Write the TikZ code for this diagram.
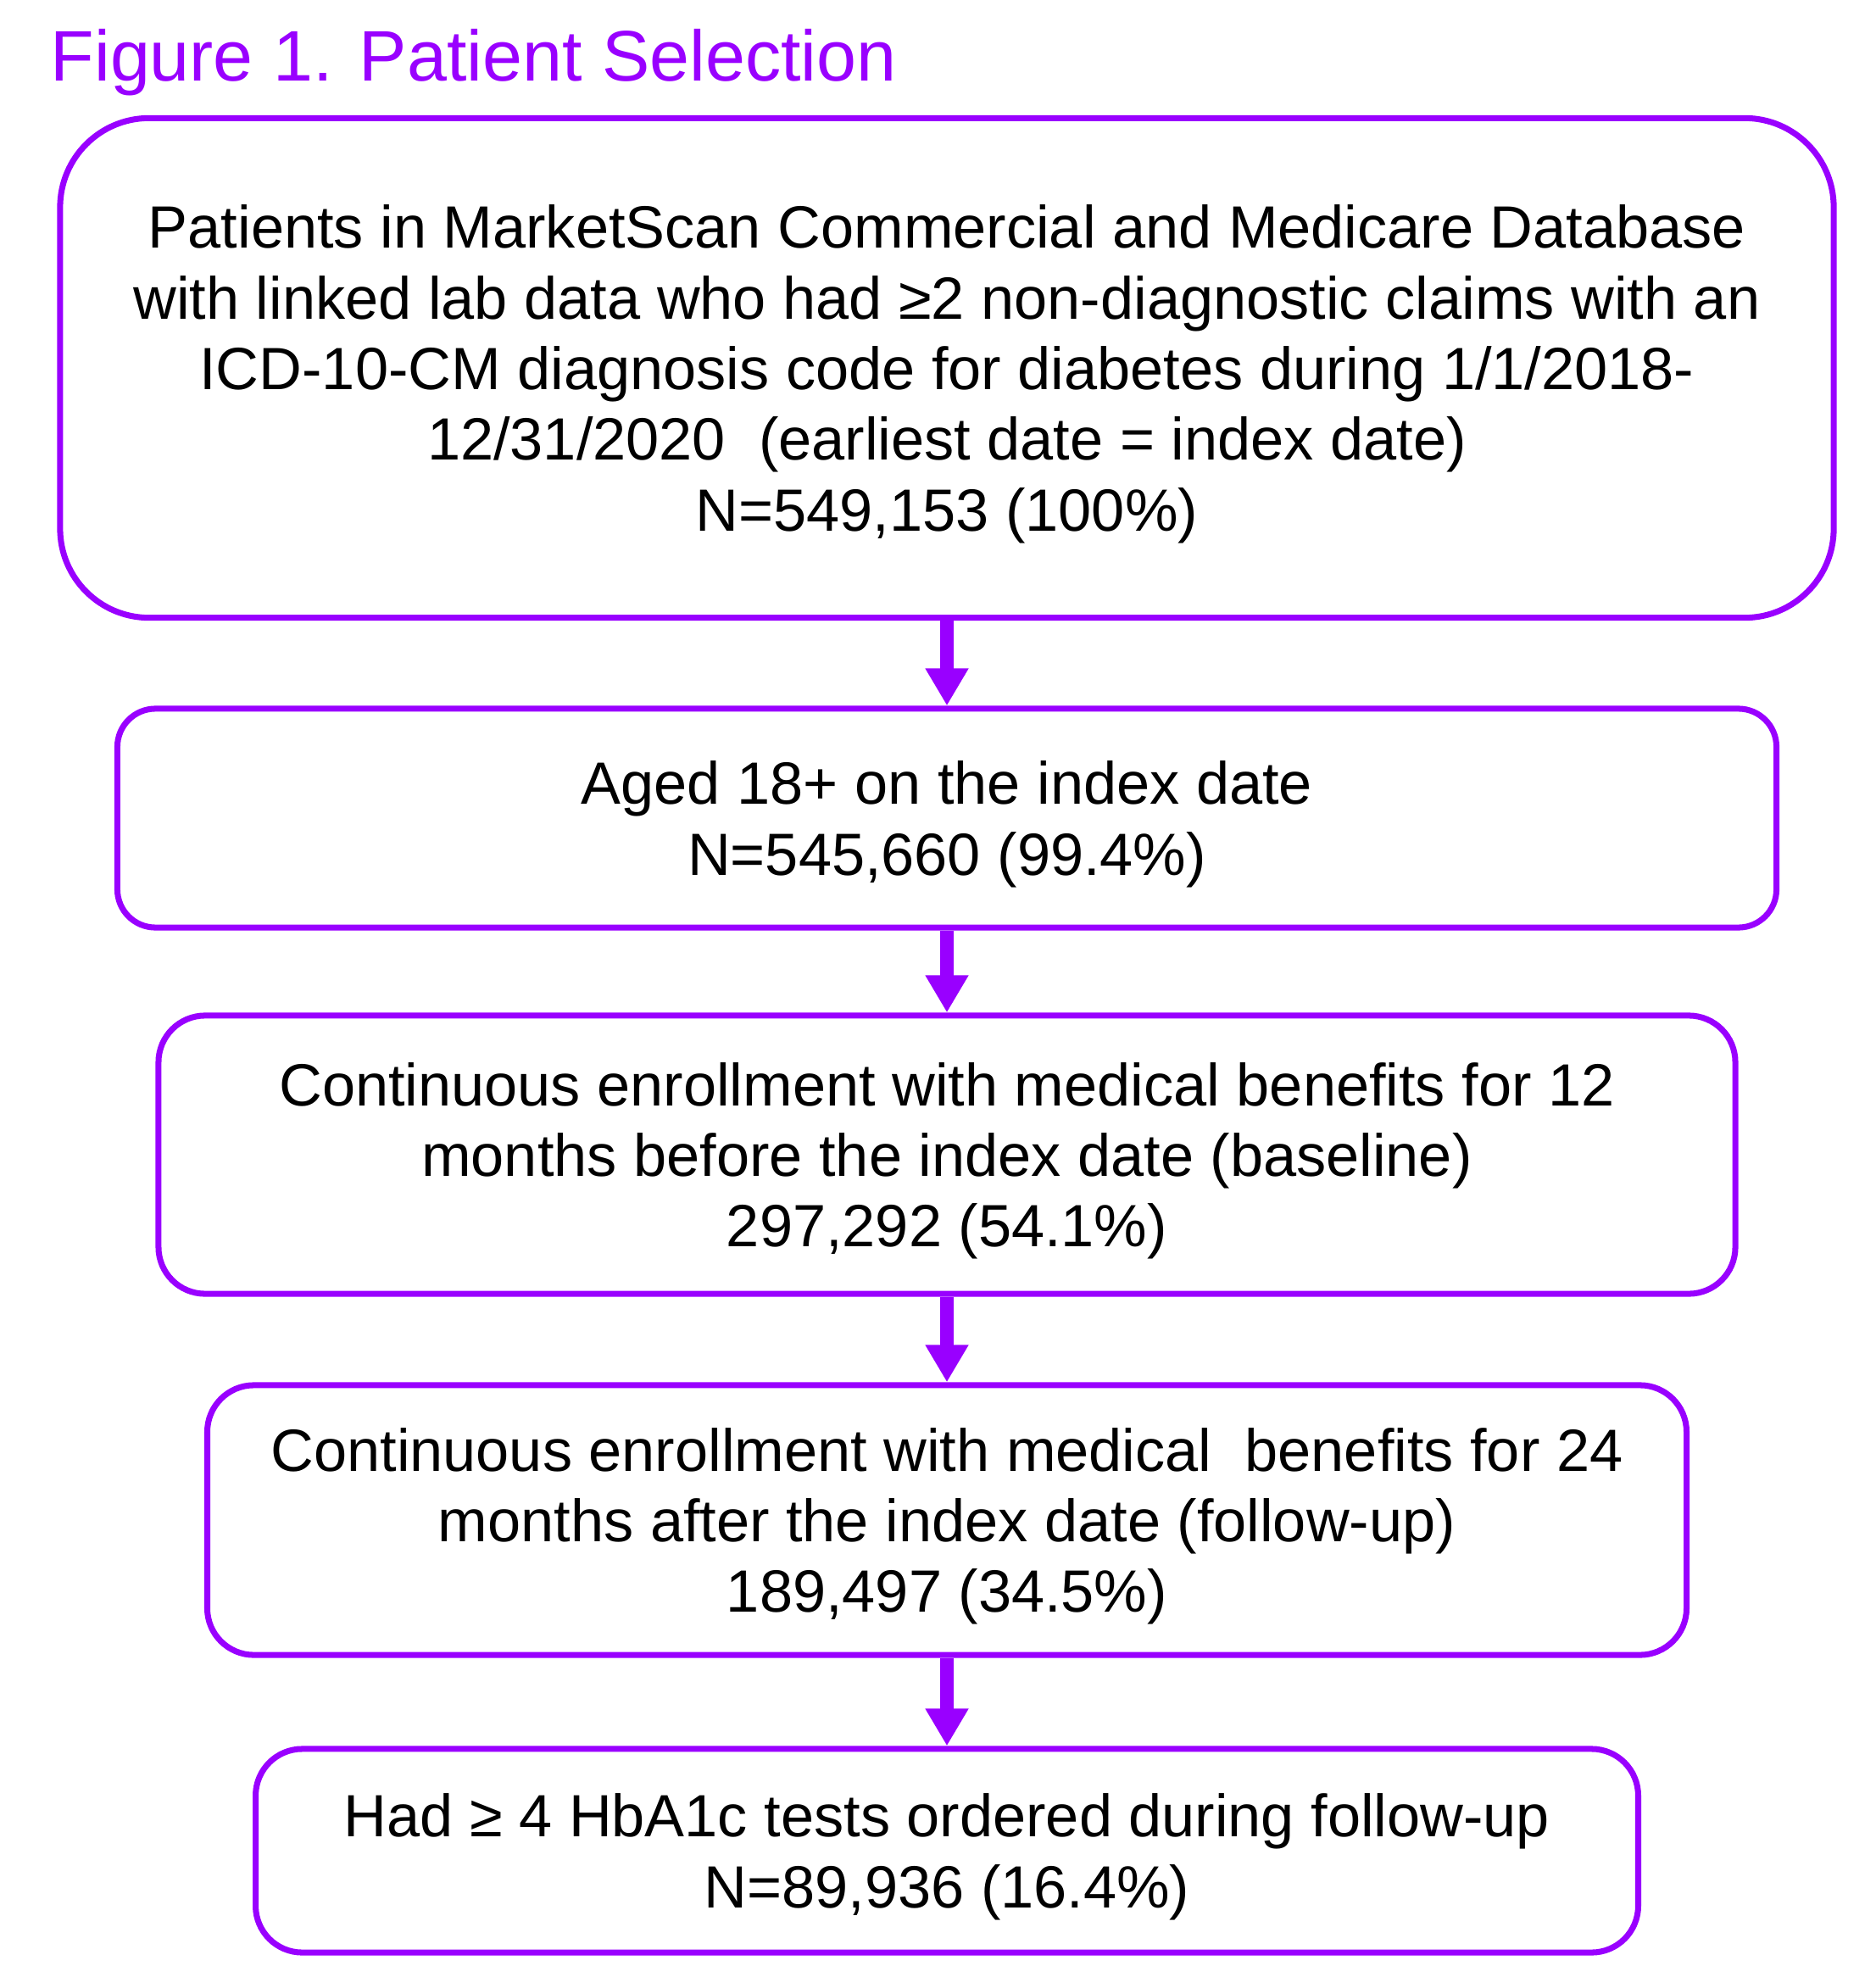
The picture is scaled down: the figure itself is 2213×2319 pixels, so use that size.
\documentclass[tikz,border=0pt]{standalone}
\usepackage{fontspec}
\setmainfont{Liberation Sans}
\usetikzlibrary{arrows.meta}
\definecolor{selpurple}{RGB}{153,0,255}

\begin{document}
\begin{tikzpicture}[x=0.01cm,y=-0.01cm,
  selbox/.style={draw=selpurple, line width=2pt, rounded corners=0.55cm, align=center,
    inner sep=0pt, text depth=0pt, font=\fontsize{20}{23.7}\selectfont},
  flow/.style={draw=selpurple, line width=0.16cm, -{Triangle[width=0.48cm,length=0.44cm]}}]
\useasboundingbox (0,0) rectangle (2213,2319);

\node[anchor=base west, inner sep=0pt, text=selpurple, font=\fontsize{24}{28}\selectfont] (title) at (59,96) {Figure 1. Patient Selection};

\node[selbox, rounded corners=1.05cm, minimum width=20.91cm, minimum height=5.89cm] (patients) at (1117,434)
  {Patients in MarketScan Commercial and Medicare Database\\
   with linked lab data who had ≥2 non-diagnostic claims with an\\
   ICD-10-CM diagnosis code for diabetes during 1/1/2018-\\
   12/31/2020~ (earliest date = index date)\\
   N=549,153 (100\%)};
\node[selbox, rounded corners=0.45cm, minimum width=19.56cm, minimum height=2.58cm] (aged) at (1117,965)
  {Aged 18+ on the index date\\
   N=545,660 (99.4\%)};
\node[selbox, minimum width=18.59cm, minimum height=3.28cm] (baseline) at (1117,1362)
  {Continuous enrollment with medical benefits for 12\\
   months before the index date (baseline)\\
   297,292 (54.1\%)};
\node[selbox, minimum width=17.44cm, minimum height=3.18cm] (followup) at (1117,1793)
  {Continuous enrollment with medical~ benefits for 24\\
   months after the index date (follow-up)\\
   189,497 (34.5\%)};
\node[selbox, minimum width=16.30cm, minimum height=2.40cm] (hba1c) at (1117,2183)
  {Had ≥ 4 HbA1c tests ordered during follow-up\\
   N=89,936 (16.4\%)};

% selection steps
\draw[flow] (patients) -- (aged);
\draw[flow] (aged) -- (baseline);
\draw[flow] (baseline) -- (followup);
\draw[flow] (followup) -- (hba1c);
\end{tikzpicture}
\end{document}
